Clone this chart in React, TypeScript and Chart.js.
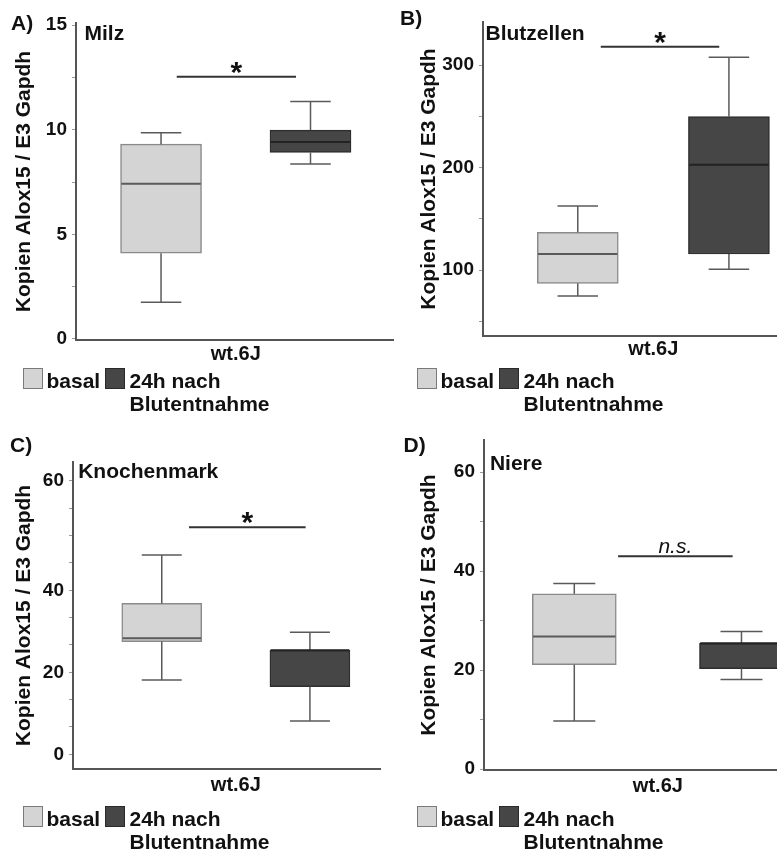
import React, { useEffect, useRef } from 'react';
import { Chart, registerables } from 'chart.js';

Chart.register(...registerables);

// ---------- data ----------
const GROUPS = ['basal', '24h nach Blutentnahme'];
const GROUP_X = [1, 2];
const GROUP_LABEL = 'wt.6J';
const Y_TITLE = 'Kopien Alox15 / E3 Gapdh';

// five-number summaries: [min, Q1, median, Q3, max]
const MILZ_BASAL = [1.75, 4.1, 7.42, 9.31, 9.85];
const MILZ_24H = [8.36, 8.91, 9.41, 9.98, 11.35];
const BLUT_BASAL = [74.6, 87.0, 115.6, 136.8, 162.4];
const BLUT_24H = [100.7, 115.6, 202.7, 249.6, 307.5];
const KNOCHEN_BASAL = [18.1, 27.5, 28.3, 36.8, 48.6];
const KNOCHEN_24H = [8.1, 16.5, 25.4, 25.4, 29.8];
const NIERE_BASAL = [9.7, 21.1, 26.8, 35.4, 37.5];
const NIERE_24H = [18.1, 20.3, 25.4, 25.4, 27.8];

// significance bars: [from group position, to group position, height]
const MILZ_SIG = [1.105, 1.903, 12.53];
const BLUT_SIG = [1.152, 1.936, 317.8];
const KNOCHEN_SIG = [1.184, 1.971, 55.4];
const NIERE_SIG = [1.262, 1.947, 43.0];

// y tick values and labels
const MILZ_TICKS = [0, 2.5, 5, 7.5, 10, 12.5, 15];
const MILZ_TICK_LABELS = ['0', '', '5', '', '10', '', '15'];
const BLUT_TICKS = [50, 100, 150, 200, 250, 300];
const BLUT_TICK_LABELS = ['', '100', '', '200', '', '300'];
const KNOCHEN_TICKS = [0, 6.67, 13.33, 20, 26.67, 33.33, 40, 46.67, 53.33, 60, 66.67];
const KNOCHEN_TICK_LABELS = ['0', '', '', '20', '', '', '40', '', '', '', '60'];
const NIERE_TICKS = [0, 10, 20, 30, 40, 50, 60];
const NIERE_TICK_LABELS = ['0', '', '20', '', '40', '', '60'];

// ---------- styles ----------
const FONT = '"Liberation Sans", Arial, Helvetica, sans-serif';
const TEXT = '#111111';
const AXIS = '#555555';
const TICK_MARK = '#9a9a9a';
const BASAL_FILL = '#d4d4d4';
const BASAL_EDGE = '#8a8a8a';
const LATE_FILL = '#464646';
const LATE_EDGE = '#2e2e2e';
const WHISKER = '#5a5a5a';
const MEDIANS = ['#5a5a5a', '#222222'];

type PanelDef = {
  letter: string; title: string;
  basal: number[]; late: number[];
  ticks: number[]; tickLabels: string[];
  sig: number[]; sigLabel: string; sigFont: string; sigDy: number;
  yMin: number; yMax: number; xMin: number; xMax: number;
  left: number; top: number; width: number; height: number;
  padTop: number; padRight: number; yWidth: number; xHeight: number;
  yTitlePad: number; xLabelPad: number; barWidth: number;
  titleDx: number; titleDy: number;
  letterLeft: number; letterTop: number;
  legendLeft: number; legendBaseline: number;
};

const PANELS: PanelDef[] = [
  {
    letter: 'A)', title: 'Milz', basal: MILZ_BASAL, late: MILZ_24H,
    ticks: MILZ_TICKS, tickLabels: MILZ_TICK_LABELS,
    sig: MILZ_SIG, sigLabel: '*', sigFont: `bold 30px ${FONT}`, sigDy: 5,
    yMin: -0.05, yMax: 15.1, xMin: 0.431, xMax: 2.552,
    left: 0, top: 0, width: 395, height: 370,
    padTop: 23, padRight: 2, yWidth: 76, xHeight: 30,
    yTitlePad: 11.4, xLabelPad: 2, barWidth: 81,
    titleDx: 8.5, titleDy: 17, letterLeft: 11, letterTop: 11.2,
    legendLeft: 0, legendBaseline: 388,
  },
  {
    letter: 'B)', title: 'Blutzellen', basal: BLUT_BASAL, late: BLUT_24H,
    ticks: BLUT_TICKS, tickLabels: BLUT_TICK_LABELS,
    sig: BLUT_SIG, sigLabel: '*', sigFont: `bold 30px ${FONT}`, sigDy: 5,
    yMin: 35.6, yMax: 342, xMin: 0.373, xMax: 2.318,
    left: 390, top: 0, width: 387, height: 366,
    padTop: 22, padRight: 0, yWidth: 93, xHeight: 30,
    yTitlePad: 26.4, xLabelPad: 1, barWidth: 81,
    titleDx: 2.5, titleDy: 18, letterLeft: 400, letterTop: 6.2,
    legendLeft: 394, legendBaseline: 388,
  },
  {
    letter: 'C)', title: 'Knochenmark', basal: KNOCHEN_BASAL, late: KNOCHEN_24H,
    ticks: KNOCHEN_TICKS, tickLabels: KNOCHEN_TICK_LABELS,
    sig: KNOCHEN_SIG, sigLabel: '*', sigFont: `bold 30px ${FONT}`, sigDy: 5,
    yMin: -3.58, yMax: 71.3, xMin: 0.401, xMax: 2.473,
    left: 0, top: 420, width: 382, height: 379,
    padTop: 42, padRight: 2, yWidth: 73, xHeight: 30,
    yTitlePad: 11.4, xLabelPad: 4, barWidth: 80,
    titleDx: 5.2, titleDy: 16.3, letterLeft: 10, letterTop: 432.9,
    legendLeft: 0, legendBaseline: 826,
  },
  {
    letter: 'D)', title: 'Niere', basal: NIERE_BASAL, late: NIERE_24H,
    ticks: NIERE_TICKS, tickLabels: NIERE_TICK_LABELS,
    sig: NIERE_SIG, sigLabel: 'n.s.', sigFont: `italic 21px ${FONT}`, sigDy: -3.5,
    yMin: -0.2, yMax: 66.5, xMin: 0.46, xMax: 2.35,
    left: 390, top: 420, width: 410, height: 380,
    padTop: 20, padRight: 0, yWidth: 94, xHeight: 30,
    yTitlePad: 26.4, xLabelPad: 4, barWidth: 84,
    titleDx: 5.9, titleDy: 30, letterLeft: 403.5, letterTop: 432.9,
    legendLeft: 394, legendBaseline: 826,
  },
];

function boxPlugin(def: PanelDef) {
  return {
    id: 'boxWhiskers',
    afterDatasetsDraw(chart: any) {
      const { ctx, chartArea } = chart;
      const xs = chart.scales.x;
      const ys = chart.scales.y;
      const meta = chart.getDatasetMeta(0);
      const stats = [def.basal, def.late];
      const line = (x1: number, y1: number, x2: number, y2: number) => {
        ctx.beginPath();
        ctx.moveTo(x1, y1);
        ctx.lineTo(x2, y2);
        ctx.stroke();
      };
      ctx.save();
      stats.forEach((s, i) => {
        const bar = meta.data[i];
        if (!bar) return;
        const cx = bar.x;
        const w = bar.width;
        const yMin = ys.getPixelForValue(s[0]);
        const yQ1 = ys.getPixelForValue(s[1]);
        const yMed = ys.getPixelForValue(s[2]);
        const yQ3 = ys.getPixelForValue(s[3]);
        const yMax = ys.getPixelForValue(s[4]);
        ctx.strokeStyle = WHISKER;
        ctx.lineWidth = 1.5;
        line(cx, yQ3, cx, yMax);
        line(cx - w / 4, yMax, cx + w / 4, yMax);
        line(cx, yQ1, cx, yMin);
        line(cx - w / 4, yMin, cx + w / 4, yMin);
        ctx.strokeStyle = MEDIANS[i];
        ctx.lineWidth = 2;
        line(cx - w / 2 + 0.75, yMed, cx + w / 2 - 0.75, yMed);
      });
      // significance bar
      const sx1 = xs.getPixelForValue(def.sig[0]);
      const sx2 = xs.getPixelForValue(def.sig[1]);
      const sy = ys.getPixelForValue(def.sig[2]);
      ctx.strokeStyle = '#333333';
      ctx.lineWidth = 2;
      line(sx1, sy, sx2, sy);
      ctx.fillStyle = TEXT;
      ctx.font = def.sigFont;
      ctx.textAlign = 'center';
      ctx.textBaseline = 'alphabetic';
      ctx.fillText(def.sigLabel, (sx1 + sx2) / 2, sy + def.sigDy);
      // panel title
      ctx.font = `bold 21px ${FONT}`;
      ctx.textAlign = 'left';
      ctx.fillText(def.title, chartArea.left + def.titleDx, chartArea.top + def.titleDy);
      ctx.restore();
    },
  };
}

function buildConfig(def: PanelDef): any {
  return {
    type: 'bar',
    data: {
      datasets: [
        {
          label: 'Alox15',
          data: [
            { x: GROUP_X[0], y: [def.basal[1], def.basal[3]] },
            { x: GROUP_X[1], y: [def.late[1], def.late[3]] },
          ],
          backgroundColor: [BASAL_FILL, LATE_FILL],
          borderColor: [BASAL_EDGE, LATE_EDGE],
          borderWidth: 1.5,
          borderSkipped: false,
          barThickness: def.barWidth,
        },
      ],
    },
    options: {
      responsive: false,
      animation: false,
      devicePixelRatio: 1,
      layout: { padding: { top: def.padTop, right: def.padRight, left: 0, bottom: 0 } },
      plugins: {
        legend: { display: false },
        tooltip: { enabled: false },
        title: { display: false },
      },
      scales: {
        x: {
          type: 'linear',
          offset: false,
          min: def.xMin,
          max: def.xMax,
          afterBuildTicks: (s: any) => {
            s.ticks = [{ value: (GROUP_X[0] + GROUP_X[1]) / 2 }];
          },
          afterFit: (s: any) => {
            s.height = def.xHeight;
          },
          ticks: {
            callback: () => GROUP_LABEL,
            color: TEXT,
            font: { family: FONT, size: 20, weight: 'bold' },
            padding: def.xLabelPad,
            autoSkip: false,
            maxRotation: 0,
          },
          grid: { display: false, drawTicks: false, offset: false },
          border: { display: true, color: AXIS, width: 2 },
        },
        y: {
          type: 'linear',
          min: def.yMin,
          max: def.yMax,
          afterBuildTicks: (s: any) => {
            s.ticks = def.ticks.map((v) => ({ value: v }));
          },
          afterFit: (s: any) => {
            s.width = def.yWidth;
          },
          ticks: {
            callback: (_v: any, i: number) => def.tickLabels[i] ?? '',
            color: TEXT,
            font: { family: FONT, size: 19, weight: 'bold' },
            padding: 5,
            autoSkip: false,
          },
          grid: {
            display: true,
            drawOnChartArea: false,
            drawTicks: true,
            tickLength: 4,
            color: TICK_MARK,
            lineWidth: 1,
          },
          border: { display: true, color: AXIS, width: 2 },
          title: {
            display: true,
            text: Y_TITLE,
            color: TEXT,
            font: { family: FONT, size: 21, weight: 'bold' },
            padding: { top: def.yTitlePad, bottom: 0 },
          },
        },
      },
    },
    plugins: [boxPlugin(def)],
  };
}

function Panel({ def }: { def: PanelDef }) {
  const ref = useRef<HTMLCanvasElement | null>(null);
  useEffect(() => {
    if (!ref.current) return;
    const chart = new Chart(ref.current, buildConfig(def));
    return () => chart.destroy();
  }, [def]);
  return (
    <canvas
      ref={ref}
      width={def.width}
      height={def.height}
      style={{ position: 'absolute', left: def.left, top: def.top, width: def.width, height: def.height }}
    />
  );
}

const textStyle: React.CSSProperties = {
  position: 'absolute',
  fontFamily: FONT,
  fontWeight: 'bold',
  fontSize: 21,
  lineHeight: '23px',
  color: TEXT,
  whiteSpace: 'nowrap',
};

function Legend({ left, baseline }: { left: number; baseline: number }) {
  const textTop = baseline - 18.8;
  const boxTop = baseline - 20;
  return (
    <>
      <div style={{ position: 'absolute', left: left + 23, top: boxTop, width: 20, height: 21, background: BASAL_FILL, border: '1.5px solid #7a7a7a', boxSizing: 'border-box' }} />
      <div style={{ ...textStyle, left: left + 46.5, top: textTop }}>{GROUPS[0]}</div>
      <div style={{ position: 'absolute', left: left + 105, top: boxTop, width: 20, height: 21, background: LATE_FILL, border: '1.5px solid #2a2a2a', boxSizing: 'border-box' }} />
      <div style={{ ...textStyle, left: left + 129.5, top: textTop }}>
        24h nach
        <br />
        Blutentnahme
      </div>
    </>
  );
}

export default function App() {
  return (
    <div style={{ position: 'absolute', left: 0, top: 0, width: 777, height: 852, overflow: 'hidden', background: '#ffffff' }}>
      {PANELS.map((p) => (
        <React.Fragment key={p.letter}>
          <Panel def={p} />
          <div style={{ ...textStyle, left: p.letterLeft, top: p.letterTop }}>{p.letter}</div>
          <Legend left={p.legendLeft} baseline={p.legendBaseline} />
        </React.Fragment>
      ))}
    </div>
  );
}
